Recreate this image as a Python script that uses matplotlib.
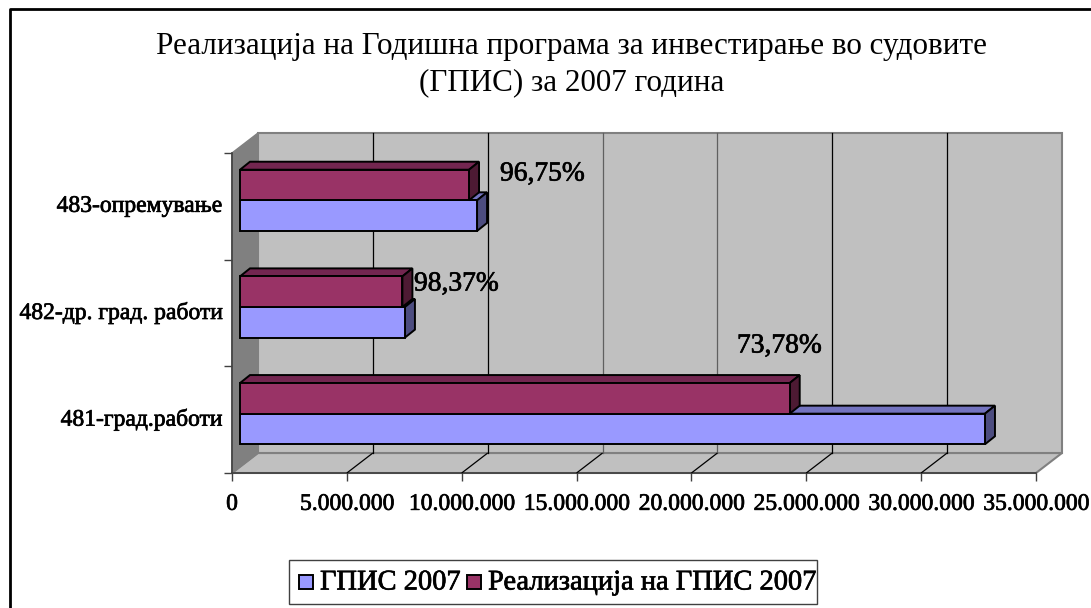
import matplotlib
matplotlib.use("Agg")
import matplotlib.pyplot as plt
import matplotlib.patheffects as pe
from matplotlib.patches import Polygon, Rectangle
from matplotlib.transforms import Affine2D

plt.rcParams['font.family'] = ['Liberation Serif', 'DejaVu Serif']

categories = ['481-град.работи', '482-др. град. работи', '483-опремување']
plan = [32430000, 7180000, 10320000]
real = [23930000, 7070000, 9970000]
percent_labels = ['73,78%', '98,37%', '96,75%']
x_ticks = [0, 5000000, 10000000, 15000000, 20000000, 25000000, 30000000, 35000000]
x_tick_labels = ['0', '5.000.000', '10.000.000', '15.000.000', '20.000.000',
                 '25.000.000', '30.000.000', '35.000.000']
title = 'Реализација на Годишна програма за инвестирање во судовите\n(ГПИС) за 2007 година'
legend_labels = ['ГПИС 2007', 'Реализација на ГПИС 2007']

W, H = 1091, 608
BLUE, BLUE_TOP, BLUE_SIDE = '#9999ff', '#7373bf', '#4d4d80'
RED, RED_TOP, RED_SIDE = '#993366', '#732650', '#4d1a33'
WALL, SIDE_WALL, GRID = '#c0c0c0', '#808080', '#808080'
# the scaled screenshot leaves two of the gridlines looking grey
grid_colors = ['black', 'black', '#606060', '#606060', 'black', 'black']
heavy = [pe.withStroke(linewidth=0.5, foreground='black')]

fig = plt.figure(figsize=(W / 100, H / 100), dpi=100)
fig.patch.set_facecolor('white')

# outer frame of the chart, only left and top are in the crop
fig.add_artist(plt.Line2D([9.5 / W, 9.5 / W, 1], [0, 1 - 9 / H, 1 - 9 / H], transform=fig.transFigure,
                          color='black', lw=2))

# the axes is the front plane of the 3d box, everything else is shifted from it in pixels
L, R, B, T = 232, 1036, 473, 153
ax = fig.add_axes([L / W, 1 - B / H, (R - L) / W, (B - T) / H])
ax.set_xlim(0, 35000000)
ax.set_ylim(0, 3)
ax.patch.set_visible(False)
for s in ax.spines.values():
    s.set_visible(False)


def shifted(dx, dy):
    return ax.transData + Affine2D().translate(dx, dy)


DEPTH_X, DEPTH_Y = 26, 20
x_max = x_ticks[-1]
back = shifted(DEPTH_X, DEPTH_Y)


# walls, go through display coordinates so the box skew stays in pixels
def box_poly(points, **kw):
    pts = []
    for x, y, depth in points:
        px = ax.transData.transform((x, y))
        pts.append((px[0] + depth * DEPTH_X, px[1] + depth * DEPTH_Y))
    p = Polygon(pts, closed=True, transform=None, clip_on=False, **kw)
    ax.add_artist(p)


box_poly([(0, 0, 0), (x_max, 0, 0), (x_max, 0, 1), (0, 0, 1)], fc=WALL, ec=GRID, lw=1.5, zorder=1)
box_poly([(0, 0, 1), (x_max, 0, 1), (x_max, 3, 1), (0, 3, 1)], fc=WALL, ec=GRID, lw=1.5, zorder=1)
box_poly([(0, 0, 0), (0, 0, 1), (0, 3, 1), (0, 3, 0)], fc=SIDE_WALL, ec=GRID, lw=1, zorder=1)
ax.plot([0, x_max], [0, 0], color='#404040', lw=1.2, clip_on=False, zorder=2)
ax.plot([0, 0], [0, 3], color='#404040', lw=1.2, clip_on=False, zorder=2)

# gridlines on back wall and floor
for t, gc in zip(x_ticks[1:-1], grid_colors):
    ax.plot([t, t], [0, 3], color=gc, lw=0.9, transform=back, clip_on=False, zorder=2)
    box_poly([(t, 0, 0), (t, 0, 1)], fill=False, ec='black', lw=0.9, zorder=2)

# bars
BAR_DX, BAR_DY = 8, 6
TOP_X, TOP_Y = 10, 8
bar_h = 0.287
bar_tr = shifted(BAR_DX, BAR_DY)


def draw_bar(y, h, value, color, top, side, z):
    x0, y0 = bar_tr.transform((0, y))
    x1, y1 = bar_tr.transform((value, y + h))
    ax.add_artist(Polygon([(x0, y1), (x1, y1), (x1 + TOP_X, y1 + TOP_Y), (x0 + TOP_X, y1 + TOP_Y)],
                          closed=True, transform=None, clip_on=False, fc=top, ec='black', lw=1.4, zorder=z))
    ax.add_artist(Polygon([(x1, y0), (x1 + TOP_X, y0 + TOP_Y), (x1 + TOP_X, y1 + TOP_Y), (x1, y1)],
                          closed=True, transform=None, clip_on=False, fc=side, ec='black', lw=1.4, zorder=z))
    ax.barh(y, value, height=h, align='edge', color=color, edgecolor='black', lw=1.4,
            transform=bar_tr, clip_on=False, zorder=z + 0.1)


for i in range(3):
    c = i + 0.5
    draw_bar(c - bar_h, bar_h, plan[i], BLUE, BLUE_TOP, BLUE_SIDE, 3 + (2 - i) * 2)
    draw_bar(c, bar_h, real[i], RED, RED_TOP, RED_SIDE, 4 + (2 - i) * 2)

ax.set_xlim(0, 35000000)
ax.set_ylim(0, 3)

# ticks
ax.set_xticks(x_ticks)
ax.set_xticklabels(x_tick_labels, fontsize=17, color='black', path_effects=heavy)
ax.set_yticks([0, 1, 2, 3])
ax.set_yticklabels([])
ax.tick_params(axis='both', length=6, width=1, color='#404040')
ax.tick_params(axis='x', pad=9)

for i, name in enumerate(categories):
    ax.text(-0.012, i + 0.5, name, transform=ax.get_yaxis_transform(), ha='right', va='center',
            fontsize=17, clip_on=False, path_effects=heavy)

# percent labels are placed by hand in the original too
pct_pos = [(737, 346), (414, 284), (500, 174)]
for lab, (px, py) in zip(percent_labels, pct_pos):
    fig.text(px / W, 1 - py / H, lab, fontsize=19.8, ha='left', va='center', zorder=30, path_effects=heavy)

fig.text(572 / W, 1 - 65 / H, title, fontsize=22.4, ha='center', va='center', linespacing=1.33)

# legend
fig.add_artist(Rectangle((289 / W, 1 - 604 / H), 528 / W, 44 / H, transform=fig.transFigure,
                         fc='white', ec='#404040', lw=1))
fig.add_artist(Rectangle((299 / W, 1 - 589 / H), 14 / W, 14 / H, transform=fig.transFigure,
                         fc=BLUE, ec='black', lw=1.4))
fig.add_artist(Rectangle((467 / W, 1 - 589 / H), 14 / W, 14 / H, transform=fig.transFigure,
                         fc=RED, ec='black', lw=1.4))
fig.text(320 / W, 1 - 583 / H, legend_labels[0], fontsize=20.5, ha='left', va='center', path_effects=heavy)
fig.text(488 / W, 1 - 583 / H, legend_labels[1], fontsize=20.5, ha='left', va='center', path_effects=heavy)

fig.savefig('out.png', dpi=100)
